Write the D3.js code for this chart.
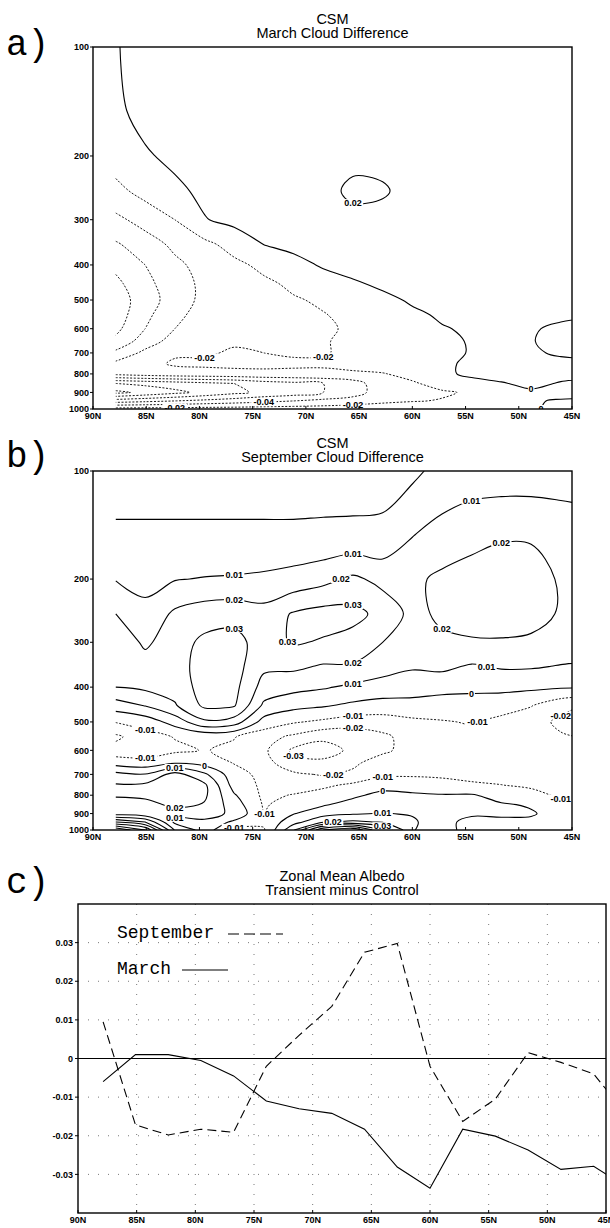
<!DOCTYPE html>
<html>
<head>
<meta charset="utf-8">
<script src="https://cdn.jsdelivr.net/npm/d3@7"></script>
<style>
  body { margin: 0; background: #fff; }
  svg { display: block; }
  .tick-label { font-family: "Liberation Sans Narrow", "Liberation Sans", Arial, sans-serif; font-weight: bold; font-size: 9px; }
  .title { font-family: "Liberation Sans", Arial, sans-serif; font-size: 14.5px; }
  .tag { font-family: "Liberation Mono", "Courier New", monospace; font-size: 36px; }
  .legend { font-family: "Liberation Mono", "Courier New", monospace; font-size: 18px; }
  .clabel { font-family: "Liberation Sans Narrow", "Liberation Sans", Arial, sans-serif; font-weight: bold; font-size: 9px; }
</style>
</head>
<body>
<svg id="fig" width="610" height="1228"></svg>
<script>
// grid of the cloud difference fields (T42 latitudes x pressure levels)
const cloudLats = [87.86, 85.10, 82.31, 79.53, 76.74, 73.95, 71.16, 68.37, 65.58, 62.79, 60.00, 57.21, 54.43, 51.64, 48.84, 46.05, 43.26];
const cloudLevels = [100, 150, 200, 250, 300, 350, 400, 450, 500, 550, 600, 650, 700, 750, 800, 850, 900, 950, 1000];

// March cloud difference, one row per level (top to bottom)
const marchCloud = [
  [-0.001, 0.006, 0.007, 0.008, 0.01, 0.01, 0.01, 0.01, 0.01, 0.01, 0.01, 0.01, 0.01, 0.01, 0.01, 0.01, 0.01],
  [-0.003, 0.005, 0.007, 0.01, 0.012, 0.012, 0.012, 0.012, 0.012, 0.012, 0.012, 0.012, 0.012, 0.012, 0.012, 0.012, 0.012],
  [-0.012, -0.002, 0.004, 0.008, 0.01, 0.012, 0.012, 0.013, 0.015, 0.015, 0.013, 0.012, 0.012, 0.01, 0.01, 0.01, 0.01],
  [-0.025, -0.014, -0.004, 0.004, 0.008, 0.01, 0.012, 0.014, 0.024, 0.022, 0.014, 0.012, 0.012, 0.011, 0.01, 0.01, 0.01],
  [-0.045, -0.032, -0.02, -0.001, 0.005, 0.008, 0.01, 0.012, 0.014, 0.014, 0.012, 0.012, 0.011, 0.01, 0.01, 0.01, 0.01],
  [-0.062, -0.05, -0.035, -0.025, -0.012, 0.0005, 0.005, 0.008, 0.01, 0.01, 0.01, 0.01, 0.01, 0.01, 0.009, 0.008, 0.008],
  [-0.075, -0.06, -0.045, -0.032, -0.025, -0.015, -0.006, 0.002, 0.006, 0.008, 0.008, 0.008, 0.008, 0.008, 0.007, 0.006, 0.006],
  [-0.085, -0.065, -0.05, -0.035, -0.03, -0.024, -0.016, -0.008, -0.002, 0.003, 0.005, 0.006, 0.006, 0.006, 0.005, 0.004, 0.004],
  [-0.09, -0.07, -0.05, -0.035, -0.03, -0.026, -0.022, -0.017, -0.01, -0.004, 0.002, 0.004, 0.004, 0.004, 0.003, 0.002, 0.001],
  [-0.09, -0.065, -0.045, -0.032, -0.028, -0.026, -0.024, -0.021, -0.015, -0.008, -0.003, 0.002, 0.003, 0.003, 0.002, 0.002, 0.001],
  [-0.085, -0.06, -0.04, -0.03, -0.026, -0.025, -0.024, -0.022, -0.018, -0.01, -0.005, -0.001, 0.002, 0.003, 0.001, -0.002, -0.004],
  [-0.075, -0.05, -0.032, -0.025, -0.022, -0.022, -0.022, -0.021, -0.017, -0.012, -0.007, -0.003, 0.001, 0.003, 0.0005, -0.003, -0.004],
  [-0.055, -0.035, -0.022, -0.022, -0.018, -0.02, -0.022, -0.021, -0.017, -0.012, -0.008, -0.004, 0.001, 0.003, 0.001, -0.001, -0.002],
  [-0.035, -0.025, -0.018, -0.017, -0.016, -0.016, -0.017, -0.018, -0.016, -0.012, -0.008, -0.002, 0.002, 0.004, 0.004, 0.002, 0.002],
  [-0.035, -0.03, -0.027, -0.026, -0.025, -0.024, -0.024, -0.023, -0.022, -0.021, -0.015, -0.003, 0.003, 0.005, 0.006, 0.004, 0.003],
  [-0.1, -0.095, -0.09, -0.085, -0.08, -0.07, -0.065, -0.06, -0.05, -0.026, -0.022, -0.014, -0.005, -0.001, 0.003, -0.001, -0.003],
  [-0.125, -0.115, -0.105, -0.095, -0.085, -0.075, -0.07, -0.06, -0.05, -0.028, -0.025, -0.022, -0.018, -0.008, -0.002, -0.004, -0.005],
  [-0.07, -0.065, -0.06, -0.055, -0.05, -0.045, -0.04, -0.035, -0.03, -0.024, -0.021, -0.019, -0.014, -0.006, -0.001, 0.001, 0.002],
  [-0.012, -0.012, -0.012, -0.011, -0.011, -0.01, -0.01, -0.01, -0.009, -0.009, -0.008, -0.007, -0.005, -0.003, -0.001, 0.002, 0.002]
];

// September cloud difference
const septCloud = [
  [-0.004, -0.004, -0.004, -0.004, -0.004, -0.004, -0.004, -0.004, -0.004, -0.004, -0.002, 0.003, 0.005, 0.005, 0.005, 0.005, 0.005],
  [0.0015, 0.0015, 0.0015, 0.0015, 0.0015, 0.0015, 0.0015, 0.0018, 0.002, 0.0025, 0.0095, 0.014, 0.017, 0.019, 0.019, 0.017, 0.015],
  [0.0095, 0.008, 0.0095, 0.0105, 0.011, 0.012, 0.014, 0.017, 0.022, 0.017, 0.018, 0.022, 0.024, 0.025, 0.024, 0.019, 0.016],
  [0.02, 0.012, 0.022, 0.026, 0.027, 0.024, 0.031, 0.034, 0.033, 0.027, 0.017, 0.022, 0.024, 0.025, 0.024, 0.019, 0.016],
  [0.028, 0.018, 0.026, 0.032, 0.033, 0.026, 0.031, 0.029, 0.026, 0.02, 0.018, 0.018, 0.019, 0.019, 0.018, 0.016, 0.014],
  [0.026, 0.025, 0.026, 0.034, 0.034, 0.022, 0.022, 0.019, 0.019, 0.014, 0.011, 0.012, 0.009, 0.011, 0.011, 0.0095, 0.009],
  [0.02, 0.022, 0.024, 0.034, 0.033, 0.016, 0.013, 0.011, 0.008, 0.006, 0.005, 0.004, 0.003, 0.003, 0.002, 0.001, 0.001],
  [0.005, 0.0105, 0.019, 0.032, 0.031, 0.008, 0.003, 0.001, -0.002, -0.004, -0.004, -0.006, -0.006, -0.007, -0.0095, -0.017, -0.021],
  [-0.0095, -0.006, 0.004, 0.018, 0.015, -0.004, -0.009, -0.012, -0.015, -0.015, -0.012, -0.0105, -0.0095, -0.012, -0.016, -0.022, -0.024],
  [-0.022, -0.014, -0.0095, -0.008, -0.0095, -0.016, -0.022, -0.028, -0.027, -0.022, -0.016, -0.013, -0.012, -0.013, -0.016, -0.019, -0.021],
  [-0.016, -0.016, -0.012, -0.0095, -0.012, -0.018, -0.032, -0.034, -0.028, -0.022, -0.016, -0.013, -0.012, -0.012, -0.014, -0.016, -0.017],
  [-0.004, -0.006, -0.001, -0.004, -0.0105, -0.016, -0.027, -0.028, -0.022, -0.015, -0.014, -0.012, -0.012, -0.012, -0.012, -0.013, -0.014],
  [0.013, 0.0105, 0.024, 0.012, -0.006, -0.013, -0.018, -0.021, -0.018, -0.012, -0.011, -0.011, -0.012, -0.012, -0.012, -0.012, -0.013],
  [0.021, 0.022, 0.028, 0.022, -0.004, -0.012, -0.014, -0.012, -0.008, -0.004, -0.006, -0.008, -0.009, -0.0099, -0.011, -0.012, -0.013],
  [0.022, 0.024, 0.028, 0.022, 0.001, -0.012, -0.0095, -0.006, -0.002, 0.003, 0.002, 0.0008, 0.001, -0.004, -0.008, -0.011, -0.012],
  [0.012, 0.014, 0.024, 0.019, 0.005, -0.011, -0.006, -0.001, 0.004, 0.007, 0.005, 0.003, 0.003, 0.001, -0.001, -0.008, -0.008],
  [0.015, 0.012, 0.012, 0.014, 0.008, -0.0102, -0.0005, 0.006, 0.009, 0.0105, 0.009, 0.004, 0.001, 0.0015, 0.001, -0.004, -0.005],
  [0.05, 0.04, 0.008, 0.008, -0.002, -0.008, 0.006, 0.019, 0.022, 0.019, 0.012, 0.002, -0.002, -0.002, -0.002, -0.002, -0.003],
  [0.09, 0.07, 0.019, 0.006, -0.013, -0.011, 0.019, 0.06, 0.07, 0.04, 0.011, 0.001, -0.001, -0.001, -0.001, -0.001, -0.002]
];

const marchThresholds = [-0.12, -0.1, -0.08, -0.06, -0.04, -0.02, 0, 0.02];
const septThresholds = [-0.03, -0.02, -0.01, 0, 0.01, 0.02, 0.03, 0.04, 0.05, 0.06, 0.07, 0.08];

// contour labels: [value, lat, pressure]
const marchLabels = [
  [0.02, 64.5, 262], [-0.02, 80, 690], [-0.02, 68.4, 680], [-0.02, 68.4, 733],
  [-0.04, 73, 903], [-0.04, 73, 962], [-0.02, 82, 975], [-0.02, 66, 932],
  [0, 48.8, 881], [0, 48.8, 965]
];
const septLabels = [
  [0.01, 77.4, 201], [0.01, 66.6, 162], [0.01, 53.4, 128],
  [0.02, 77.4, 233], [0.02, 66.7, 181], [0.02, 51.4, 155], [0.02, 58, 299], [0.02, 66.3, 342],
  [0.03, 77.4, 259], [0.03, 66.4, 243], [0.03, 71.5, 283],
  [0.01, 66.3, 390], [0.01, 53.5, 345], [0, 53.2, 415],
  [-0.01, 54.2, 500], [-0.01, 66, 450], [-0.02, 65, 480], [-0.02, 45.4, 470],
  [-0.01, 85.6, 565], [-0.03, 70, 620], [-0.02, 67.7, 710], [-0.01, 62.3, 690],
  [-0.01, 46, 825], [-0.01, 73.4, 905], [-0.01, 76.5, 990],
  [-0.01, 84, 610], [0, 80.5, 655], [0.01, 83, 700],
  [0, 62.5, 782], [0.01, 62.5, 908], [0.02, 82, 875], [0.01, 82, 918],
  [0.02, 66.8, 935], [0.03, 63.5, 962]
];

// panel c: zonal mean albedo, transient minus control
const albedoLats = [87.86, 85.10, 82.31, 79.53, 76.74, 73.95, 71.16, 68.37, 65.58, 62.79, 60.00, 57.21, 54.43, 51.64, 48.84, 46.05, 43.26];
const marchAlbedo = [-0.006, 0.001, 0.001, -0.0005, -0.0045, -0.011, -0.013, -0.0142, -0.0183, -0.0281, -0.0336, -0.0183, -0.0201, -0.0237, -0.0287, -0.0279, -0.0333];
const septAlbedo = [0.0095, -0.0172, -0.0198, -0.0183, -0.0191, -0.002, 0.006, 0.0135, 0.0275, 0.0298, -0.002, -0.0163, -0.0105, 0.0015, -0.001, -0.004, -0.0145];

const latTicks = [90, 85, 80, 75, 70, 65, 60, 55, 50, 45];
const pressureTicks = [100, 200, 300, 400, 500, 600, 700, 800, 900, 1000];
const albedoTicks = [-0.03, -0.02, -0.01, 0, 0.01, 0.02, 0.03];

const svg = d3.select("#fig");

// turn d3.contours rings into open isolines (drop the grid-boundary pieces)
function contourLines(grid, thresholds) {
    let ny = grid.length, nx = grid[0].length;
    let gen = d3.contours().size([nx, ny]).thresholds(thresholds);
    let out = [];
    let onEdge = p => p[0] <= 0 || p[0] >= nx || p[1] <= 0 || p[1] >= ny;
    gen(grid.flat()).forEach(c => {
        c.coordinates.forEach(poly => poly.forEach(ring => {
            let pts = ring.slice(0, ring.length - 1);
            let b = pts.findIndex(onEdge);
            if (b < 0) {
                out.push({value: c.value, pts: pts, closed: true});
                return;
            }
            let rot = pts.slice(b).concat(pts.slice(0, b));
            let cur = [];
            rot.forEach(p => {
                if (onEdge(p)) {
                    if (cur.length > 1) out.push({value: c.value, pts: cur, closed: false});
                    cur = [];
                } else cur.push(p);
            });
            if (cur.length > 1) out.push({value: c.value, pts: cur, closed: false});
        }));
    });
    return out;
}

function drawFrameTitles(box, t1, t2, tag, tagY) {
    let cx = (box.left + box.right) / 2;
    svg.append("text").attr("class", "title").attr("x", cx).attr("y", box.top - 23)
        .attr("text-anchor", "middle").text(t1);
    svg.append("text").attr("class", "title").attr("x", cx).attr("y", box.top - 9)
        .attr("text-anchor", "middle").text(t2);
    svg.append("text").attr("class", "tag").attr("x", 6).attr("y", tagY).text(tag);
}

function drawLatAxis(box, x) {
    let g = svg.append("g");
    g.selectAll("line").data(latTicks).enter().append("line")
        .attr("x1", d => x(d)).attr("x2", d => x(d))
        .attr("y1", box.bottom).attr("y2", box.bottom - 3)
        .attr("stroke", "#000").attr("stroke-width", 1);
    g.selectAll("text").data(latTicks).enter().append("text")
        .attr("class", "tick-label")
        .attr("x", d => x(d)).attr("y", box.bottom + 10)
        .attr("text-anchor", "middle")
        .text(d => d + "N");
}

function drawCloudPanel(box, grid, thresholds, labels, id) {
    let x = d3.scaleLinear().domain([90, 45]).range([box.left, box.right]);
    let y = d3.scaleLog().domain([100, 1000]).range([box.top, box.bottom]);
    let nx = grid[0].length, ny = grid.length;
    let latAt = d3.scaleLinear().domain(d3.range(nx)).range(cloudLats);
    let levAt = d3.scaleLinear().domain(d3.range(ny)).range(cloudLevels);
    let toPx = p => [x(latAt(p[0] - 0.5)), y(levAt(p[1] - 0.5))];

    svg.append("clipPath").attr("id", id).append("rect")
        .attr("x", box.left).attr("y", box.top)
        .attr("width", box.right - box.left).attr("height", box.bottom - box.top);

    let lines = contourLines(grid, thresholds).map(l => ({value: l.value, closed: l.closed, px: l.pts.map(toPx)}));
    let g = svg.append("g").attr("clip-path", `url(#${id})`);
    let open = d3.line().curve(d3.curveCatmullRom.alpha(0.5));
    let shut = d3.line().curve(d3.curveCatmullRomClosed.alpha(0.5));
    g.selectAll("path").data(lines).enter().append("path")
        .attr("d", d => (d.closed ? shut : open)(d.px))
        .attr("fill", "none")
        .attr("stroke", "#000")
        .attr("stroke-width", d => d.value < 0 ? 0.9 : 1.1)
        .attr("stroke-dasharray", d => d.value < 0 ? "2,1.6" : null);

    // labels snap onto the nearest point of the matching contour
    let lg = svg.append("g").attr("clip-path", `url(#${id})`);
    labels.forEach(([v, lat, p]) => {
        let tx = x(lat), ty = y(p);
        let best = null, bd = Infinity;
        lines.filter(l => Math.abs(l.value - v) < 1e-9).forEach(l => l.px.forEach(q => {
            let d = (q[0] - tx) ** 2 + (q[1] - ty) ** 2;
            if (d < bd) { bd = d; best = q; }
        }));
        if (!best || bd > 900) best = [tx, ty];
        let txt = String(v);
        let w = txt.length * 4.6 + 2;
        lg.append("rect").attr("x", best[0] - w / 2).attr("y", best[1] - 4)
            .attr("width", w).attr("height", 8).attr("fill", "#fff");
        lg.append("text").attr("class", "clabel").attr("x", best[0]).attr("y", best[1] + 3.2)
            .attr("text-anchor", "middle").text(txt);
    });

    // axes and frame
    let ay = svg.append("g");
    ay.selectAll("line").data(pressureTicks).enter().append("line")
        .attr("x1", box.left - 3).attr("x2", box.left)
        .attr("y1", d => y(d)).attr("y2", d => y(d))
        .attr("stroke", "#000");
    ay.selectAll("text").data(pressureTicks).enter().append("text")
        .attr("class", "tick-label")
        .attr("x", box.left - 4).attr("y", d => y(d) + 3.2)
        .attr("text-anchor", "end").text(d => d);
    drawLatAxis(box, x);
    svg.append("rect").attr("x", box.left).attr("y", box.top)
        .attr("width", box.right - box.left).attr("height", box.bottom - box.top)
        .attr("fill", "none").attr("stroke", "#000").attr("stroke-width", 1.4);
}

function drawAlbedoPanel(box) {
    let x = d3.scaleLinear().domain([90, 45]).range([box.left, box.right]);
    let y = d3.scaleLinear().domain([-0.04, 0.04]).range([box.bottom, box.top]);

    svg.append("clipPath").attr("id", "clipC").append("rect")
        .attr("x", box.left).attr("y", box.top)
        .attr("width", box.right - box.left).attr("height", box.bottom - box.top);
    let g = svg.append("g").attr("clip-path", "url(#clipC)");

    // sparse dotted grid
    g.selectAll(".gy").data(albedoTicks.filter(d => d !== 0)).enter().append("line")
        .attr("x1", box.left).attr("x2", box.right)
        .attr("y1", d => y(d)).attr("y2", d => y(d))
        .attr("stroke", "#555").attr("stroke-width", 0.8).attr("stroke-dasharray", "1,9");
    g.selectAll(".gx").data(latTicks.slice(1, -1)).enter().append("line")
        .attr("x1", d => x(d)).attr("x2", d => x(d))
        .attr("y1", box.top).attr("y2", box.bottom)
        .attr("stroke", "#555").attr("stroke-width", 0.8).attr("stroke-dasharray", "1,9");
    g.append("line").attr("x1", box.left).attr("x2", box.right)
        .attr("y1", y(0)).attr("y2", y(0)).attr("stroke", "#000").attr("stroke-width", 1);

    let line = d3.line().x((d, i) => x(albedoLats[i])).y(d => y(d));
    g.append("path").attr("d", line(marchAlbedo))
        .attr("fill", "none").attr("stroke", "#000").attr("stroke-width", 1.1);
    g.append("path").attr("d", line(septAlbedo))
        .attr("fill", "none").attr("stroke", "#000").attr("stroke-width", 1.1)
        .attr("stroke-dasharray", "9,5");

    // legend
    svg.append("text").attr("class", "legend").attr("x", box.left + 39).attr("y", box.top + 34).text("September");
    svg.append("line").attr("x1", box.left + 150).attr("x2", box.left + 205)
        .attr("y1", box.top + 30).attr("y2", box.top + 30)
        .attr("stroke", "#000").attr("stroke-width", 1.1).attr("stroke-dasharray", "11,5");
    svg.append("text").attr("class", "legend").attr("x", box.left + 39).attr("y", box.top + 70).text("March");
    svg.append("line").attr("x1", box.left + 104).attr("x2", box.left + 150)
        .attr("y1", box.top + 66).attr("y2", box.top + 66)
        .attr("stroke", "#000").attr("stroke-width", 1.1);

    let ay = svg.append("g");
    ay.selectAll("line").data(albedoTicks).enter().append("line")
        .attr("x1", box.left - 3).attr("x2", box.left)
        .attr("y1", d => y(d)).attr("y2", d => y(d)).attr("stroke", "#000");
    ay.selectAll("text").data(albedoTicks).enter().append("text")
        .attr("class", "tick-label")
        .attr("x", box.left - 5).attr("y", d => y(d) + 3.2)
        .attr("text-anchor", "end").text(d => String(d));
    drawLatAxis(box, x);
    svg.append("rect").attr("x", box.left).attr("y", box.top)
        .attr("width", box.right - box.left).attr("height", box.bottom - box.top)
        .attr("fill", "none").attr("stroke", "#000").attr("stroke-width", 1.4);
}

const boxA = {left: 93, right: 572, top: 47, bottom: 409};
const boxB = {left: 93, right: 572, top: 471, bottom: 830};
const boxC = {left: 78, right: 606, top: 904, bottom: 1213};

drawFrameTitles(boxA, "CSM", "March Cloud Difference", "a)", 55);
drawCloudPanel(boxA, marchCloud, marchThresholds, marchLabels, "clipA");
drawFrameTitles(boxB, "CSM", "September Cloud Difference", "b)", 467);
drawCloudPanel(boxB, septCloud, septThresholds, septLabels, "clipB");
drawFrameTitles(boxC, "Zonal Mean Albedo", "Transient minus Control", "c)", 893);
drawAlbedoPanel(boxC);
</script>
</body>
</html>
